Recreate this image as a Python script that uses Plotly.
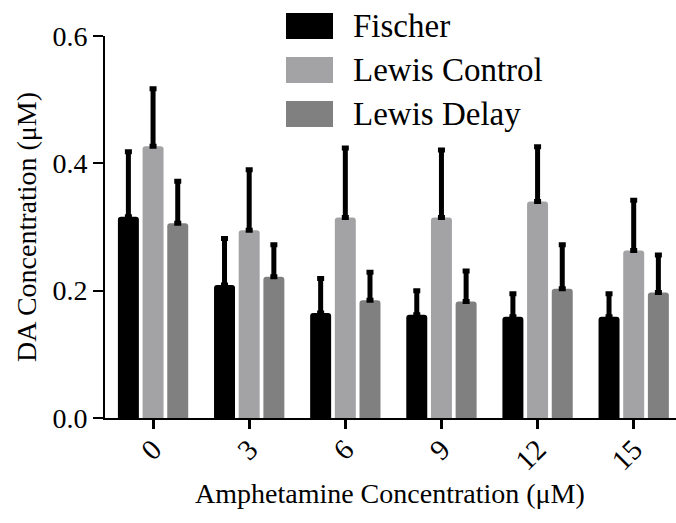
import plotly.graph_objects as go

categories = ["0", "3", "6", "9", "12", "15"]
series_names = ["Fischer", "Lewis Control", "Lewis Delay"]
fischer = [0.316, 0.209, 0.165, 0.162, 0.159, 0.159]
fischer_err = [0.102, 0.073, 0.054, 0.038, 0.036, 0.036]
lewis_control = [0.427, 0.295, 0.315, 0.315, 0.340, 0.263]
lewis_control_err = [0.090, 0.095, 0.109, 0.106, 0.086, 0.079]
lewis_delay = [0.306, 0.222, 0.185, 0.183, 0.203, 0.197]
lewis_delay_err = [0.066, 0.050, 0.044, 0.048, 0.069, 0.059]
y_ticks = [0.0, 0.2, 0.4, 0.6]

colors = ["#000000", "#a3a3a6", "#808080"]
FONT = "Liberation Serif"

W, H = 676, 523
L, R, T, B = 105, 676, 36, 418

fig = go.Figure()
for name, vals, errs, col in zip(series_names,
                                 [fischer, lewis_control, lewis_delay],
                                 [fischer_err, lewis_control_err, lewis_delay_err],
                                 colors):
    fig.add_trace(go.Bar(
        x=categories, y=vals, name=name,
        marker=dict(color=col, line=dict(width=0), cornerradius=3),
        error_y=dict(type="data", array=errs, arrayminus=[0] * len(errs),
                     symmetric=False, color="#000000", thickness=5, width=3.5),
        showlegend=False,
    ))

def px2paper(px, py):
    return (px - L) / (R - L), (B - py) / (B - T)

shapes = []
annotations = []
sw_rows = [26, 70, 114]
for name, col, cy in zip(series_names, colors, sw_rows):
    x0, y0 = px2paper(286, cy - 13)
    x1, y1 = px2paper(333, cy + 13)
    shapes.append(dict(type="rect", xref="paper", yref="paper",
                       x0=x0, x1=x1, y0=y1, y1=y0,
                       fillcolor=col, line=dict(width=0), layer="above"))
    tx, ty = px2paper(351, cy)
    annotations.append(dict(text=name, xref="paper", yref="paper", x=tx, y=ty,
                            xanchor="left", yanchor="middle", showarrow=False,
                            font=dict(family=FONT, size=33, color="#000000")))

xt, yt = px2paper(390, 494)
annotations.append(dict(text="Amphetamine Concentration (μM)", xref="paper", yref="paper",
                        x=xt, y=yt, xanchor="center", yanchor="middle", showarrow=False,
                        font=dict(family=FONT, size=28, color="#000000")))
xt, yt = px2paper(26, 227)
annotations.append(dict(text="DA Concentration (μM)", xref="paper", yref="paper",
                        x=xt, y=yt, xanchor="center", yanchor="middle", showarrow=False,
                        textangle=-90,
                        font=dict(family=FONT, size=28, color="#000000")))

fig.update_layout(
    width=W, height=H,
    margin=dict(l=L, r=W - R, t=T, b=H - B, autoexpand=False),
    paper_bgcolor="white", plot_bgcolor="white",
    barmode="group", bargap=0.23, bargroupgap=0.15,
    shapes=shapes, annotations=annotations,
    font=dict(family=FONT, color="#000000"),
    xaxis=dict(range=[-0.5, 5.44], showline=True, linecolor="#000000", linewidth=2,
               ticks="outside", ticklen=9, tickwidth=2.5, tickcolor="#000000",
               tickangle=-45, ticklabelstandoff=-8,
               tickfont=dict(family=FONT, size=29, color="#000000"),
               showgrid=False, zeroline=False, fixedrange=True),
    yaxis=dict(range=[0, 0.6], tickvals=y_ticks, tickformat=".1f",
               showline=True, linecolor="#000000", linewidth=2,
               ticks="outside", ticklen=10, tickwidth=2, tickcolor="#000000",
               tickfont=dict(family=FONT, size=28, color="#000000"),
               showgrid=False, zeroline=False, fixedrange=True),
)

fig.write_html("out.html")
